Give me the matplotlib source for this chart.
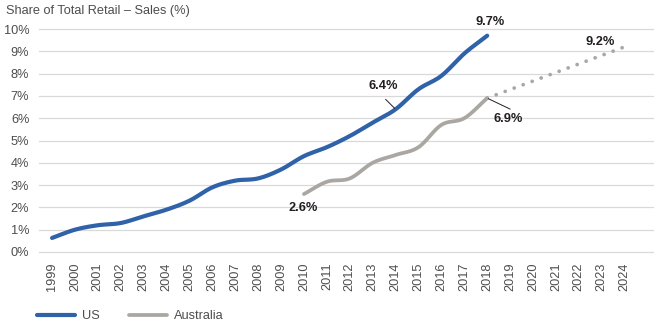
import numpy as np
import matplotlib
matplotlib.use("Agg")
import matplotlib.pyplot as plt
from matplotlib.lines import Line2D

plt.rcParams["font.family"] = ["Liberation Sans", "DejaVu Sans"]

# Category axis
years = [str(y) for y in range(1999, 2025)]

# US e-commerce share of total retail sales (%), 1999-2018
us_years = list(range(1999, 2019))
us_share = [0.63, 1.0, 1.2, 1.3, 1.6, 1.9, 2.3, 2.9, 3.2, 3.3,
            3.7, 4.3, 4.7, 5.2, 5.8, 6.4, 7.3, 7.9, 8.9, 9.7]

# Australia online share (%), 2010-2018
au_years = list(range(2010, 2019))
au_share = [2.6, 3.15, 3.3, 4.0, 4.35, 4.7, 5.7, 6.0, 6.9]

# Australia projection, 2018 -> 2024
proj_years = [2018, 2024]
proj_share = [6.9, 9.2]

y_ticks = list(range(0, 11))
y_tick_labels = [f"{v}%" for v in y_ticks]

BLUE = "#2f62a8"
GREY = "#aaa7a2"
TEXT = "#4d4d4d"
LABEL = "#231f20"
FS = 9.2


def smooth(xs, ys, n=12):
    """Catmull-Rom curve through the given points."""
    x = np.asarray(xs, float)
    y = np.asarray(ys, float)
    px = np.concatenate([[2 * x[0] - x[1]], x, [2 * x[-1] - x[-2]]])
    py = np.concatenate([[2 * y[0] - y[1]], y, [2 * y[-1] - y[-2]]])
    outx, outy = [], []
    t = np.linspace(0, 1, n, endpoint=False)
    for i in range(1, len(px) - 2):
        for arr, out in ((px, outx), (py, outy)):
            p0, p1, p2, p3 = arr[i - 1], arr[i], arr[i + 1], arr[i + 2]
            out.extend(0.5 * ((2 * p1) + (-p0 + p2) * t
                              + (2 * p0 - 5 * p1 + 4 * p2 - p3) * t ** 2
                              + (-p0 + 3 * p1 - 3 * p2 + p3) * t ** 3))
    outx.append(x[-1])
    outy.append(y[-1])
    return np.array(outx), np.array(outy)


def idx(yrs):
    return [y - 1999 for y in yrs]


fig = plt.figure(figsize=(6.55, 3.25), dpi=100)
ax = fig.add_axes([39 / 655, (325 - 252) / 325, (653 - 39) / 655, (252 - 29) / 325])

ax.set_xlim(-0.57, 26.24)
ax.set_ylim(0, 10)

for v in y_ticks:
    ax.axhline(v, color="#d9d9d9", lw=0.9, zorder=0, clip_on=False)

ax.set_yticks(y_ticks)
ax.set_yticklabels(y_tick_labels)
ax.set_xticks(range(len(years)))
ax.set_xticklabels(years, rotation=90)
ax.tick_params(axis="both", length=0, labelsize=FS, colors=TEXT)
ax.tick_params(axis="y", pad=7)
ax.tick_params(axis="x", pad=7.5)
for s in ax.spines.values():
    s.set_visible(False)

# Series
ax.plot(*smooth(idx(us_years), us_share), color=BLUE, lw=3.0,
        solid_capstyle="round", zorder=3)
ax.plot(idx(proj_years), proj_share, color=GREY, lw=2.7,
        linestyle=(0, (0.01, 2.55)), dash_capstyle="round", zorder=2)
ax.plot(*smooth(idx(au_years), au_share), color=GREY, lw=2.7,
        solid_capstyle="round", zorder=2)

# Value labels
lab = dict(fontsize=FS, fontweight="bold", color=LABEL, ha="center", va="center")
p64 = (idx([2014])[0], us_share[idx([2014])[0]])
p69 = (idx([2018])[0], au_share[-1])
ax.annotate("9.7%", (idx([2018])[0], us_share[-1]), xytext=(3, 14),
            textcoords="offset pixels", **lab)
ax.annotate("9.2%", (idx([2024])[0], proj_share[-1]), xytext=(-24, 5),
            textcoords="offset pixels", **lab)
ax.annotate("2.6%", (idx([2010])[0], au_share[0]), xytext=(-1, -14),
            textcoords="offset pixels", **lab)
ax.annotate("6.4%", p64, xytext=(-12, 23), textcoords="offset pixels", **lab)
ax.annotate("6.9%", p69, xytext=(21, -21), textcoords="offset pixels", **lab)

# Leader lines
leader = dict(arrowstyle="-", color=LABEL, lw=0.7, shrinkA=0, shrinkB=1)
ax.annotate("", p64, xytext=(-10, 10), textcoords="offset pixels", arrowprops=leader)
ax.annotate("", p69, xytext=(23, -11), textcoords="offset pixels", arrowprops=leader)

# Title
fig.text(6 / 655, 1 - 11 / 325, "Share of Total Retail \u2013 Sales (%)",
         fontsize=FS, color=TEXT, ha="left", va="center")

# Legend
handles = [Line2D([], [], color=BLUE, lw=3.0, solid_capstyle="round"),
           Line2D([], [], color=GREY, lw=2.7, solid_capstyle="round")]
fig.legend(handles, ["US", "Australia"], loc="center left",
           bbox_to_anchor=(37 / 655, 1 - 316 / 325), ncol=2, frameon=False,
           fontsize=FS, labelcolor=TEXT, handlelength=3.0, handletextpad=0.5,
           columnspacing=2.3, borderaxespad=0, borderpad=0)

fig.savefig("out.png", dpi=100)
